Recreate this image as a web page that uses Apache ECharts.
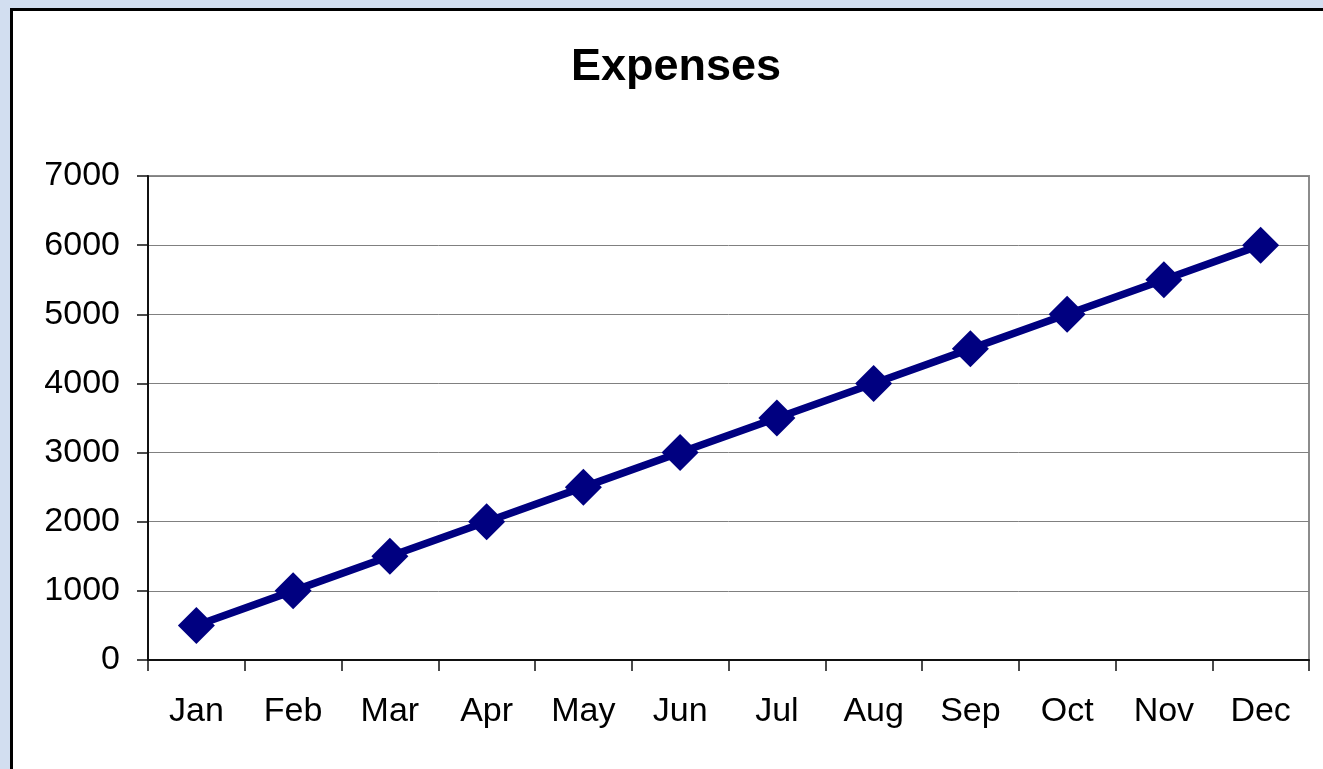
<!DOCTYPE html>
<html>
<head>
<meta charset="utf-8">
<script src="https://cdn.jsdelivr.net/npm/echarts@6/dist/echarts.min.js"></script>
<style>
  html, body { margin: 0; padding: 0; width: 1323px; height: 769px; overflow: hidden; background: #d2def0; }
  #chart { position: absolute; left: 10px; top: 8px; width: 1310px; height: 758px; border-left: 3px solid #000; border-top: 3px solid #000; background: #fff; }
</style>
</head>
<body>
<div id="chart"></div>
<script>
const titleText = 'Expenses';
const months = ['Jan','Feb','Mar','Apr','May','Jun','Jul','Aug','Sep','Oct','Nov','Dec'];
const expenses = [500, 1000, 1500, 2000, 2500, 3000, 3500, 4000, 4500, 5000, 5500, 6000];
const yMin = 0, yMax = 7000, yStep = 1000;

const chart = echarts.init(document.getElementById('chart'), null, { renderer: 'canvas' });
const font = '"Liberation Sans", Arial, sans-serif';
chart.setOption({
  animation: false,
  backgroundColor: '#fff',
  title: {
    text: titleText,
    left: 553,
    top: 29,
    textStyle: { fontFamily: font, fontSize: 45, fontWeight: 'bold', color: '#000' }
  },
  grid: {
    left: 135, right: 14, top: 165, bottom: 109,
    show: true, borderColor: '#8c8c8c', borderWidth: 2, backgroundColor: 'transparent'
  },
  xAxis: {
    type: 'category',
    data: months,
    boundaryGap: true,
    axisLine: { lineStyle: { color: '#111', width: 2 } },
    axisTick: { show: true, length: 11, inside: false, interval: 0, lineStyle: { color: '#111', width: 1.5 } },
    axisLabel: { interval: 0, margin: 35, fontFamily: font, fontSize: 34, color: '#000' },
    splitLine: { show: false }
  },
  yAxis: {
    type: 'value',
    min: yMin, max: yMax, interval: yStep,
    axisLine: { show: true, lineStyle: { color: '#111', width: 2 } },
    axisTick: { show: true, length: 11, lineStyle: { color: '#111', width: 1.5 } },
    axisLabel: { margin: 28, fontFamily: font, fontSize: 34, color: '#000', formatter: function (v) { return String(v); } },
    splitLine: { show: true, lineStyle: { color: '#808080', width: 1 } }
  },
  series: [{
    type: 'line',
    data: expenses,
    symbol: 'diamond',
    symbolSize: 37,
    lineStyle: { color: '#000080', width: 7.5 },
    itemStyle: { color: '#000080' }
  }]
});
</script>
</body>
</html>
